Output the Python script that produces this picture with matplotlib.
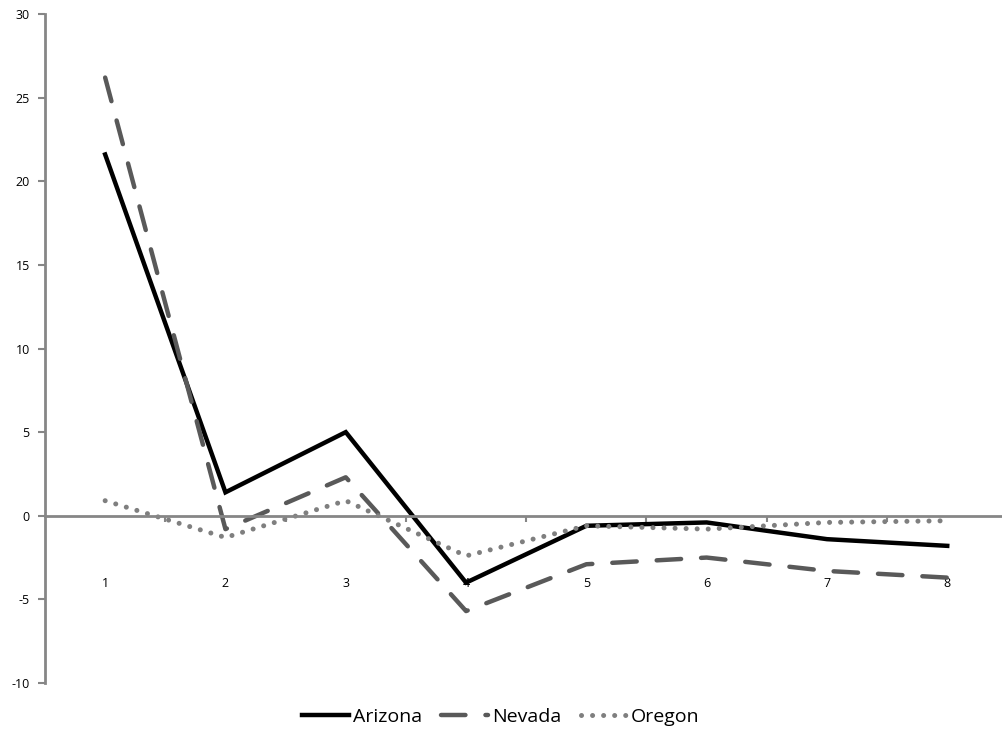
import matplotlib
matplotlib.use('Agg')
import matplotlib.pyplot as plt
from matplotlib.ticker import FixedLocator

# Данные с графика
categories = [1, 2, 3, 4, 5, 6, 7, 8]
arizona = [21.6, 1.4, 5.0, -4.0, -0.6, -0.4, -1.4, -1.8]
nevada = [26.2, -0.8, 2.3, -5.7, -2.9, -2.5, -3.3, -3.7]
oregon = [0.9, -1.3, 0.9, -2.4, -0.6, -0.8, -0.4, -0.3]
y_ticks = [-10, -5, 0, 5, 10, 15, 20, 25, 30]

plt.rcParams['font.family'] = ['Open Sans', 'DejaVu Sans']
plt.rcParams['axes.unicode_minus'] = False

fig = plt.figure(figsize=(10.02, 7.36), dpi=100)
ax = fig.add_axes([45 / 1002, 1 - 683 / 736, 1 - 45 / 1002, (683 - 14) / 736])

ax.plot(categories, arizona, color='black', lw=3.2, solid_joinstyle='miter', label='Arizona')
ax.plot(categories, nevada, color='#595959', lw=3.2, dashes=(5.5, 4.5), dash_capstyle='round', label='Nevada')
ax.plot(categories, oregon, color='#7f7f7f', lw=3.6, dashes=(0.01, 2.2), dash_capstyle='round', label='Oregon')

ax.set_xlim(0.5, 0.5 + (1002 - 45) / 120.3)
ax.set_ylim(-10, 30)

axis_color = '#868686'
for s in ['top', 'right']:
    ax.spines[s].set_visible(False)
ax.spines['bottom'].set_position(('data', 0))
ax.spines['bottom'].set_color(axis_color)
ax.spines['bottom'].set_linewidth(2)
ax.spines['left'].set_color(axis_color)
ax.spines['left'].set_linewidth(2)
ax.spines['left'].set_bounds(-10, 30)

ax.set_yticks(y_ticks)
ax.tick_params(axis='y', length=5, width=1.5, color=axis_color, labelsize=9, pad=6)

ax.set_xticks(categories)
ax.set_xticklabels([str(c) for c in categories])
ax.tick_params(axis='x', which='major', length=0, labelsize=9, pad=44)
ax.xaxis.set_minor_locator(FixedLocator([c + 0.5 for c in categories]))
ax.tick_params(axis='x', which='minor', length=4, width=1.5, color=axis_color)

leg = fig.legend(loc='center', bbox_to_anchor=(0.5, 1 - 717 / 736), ncol=3, frameon=False,
                 fontsize=14, handlelength=2.4, handletextpad=0.2, columnspacing=1.0)

fig.savefig('out.png', dpi=100)
